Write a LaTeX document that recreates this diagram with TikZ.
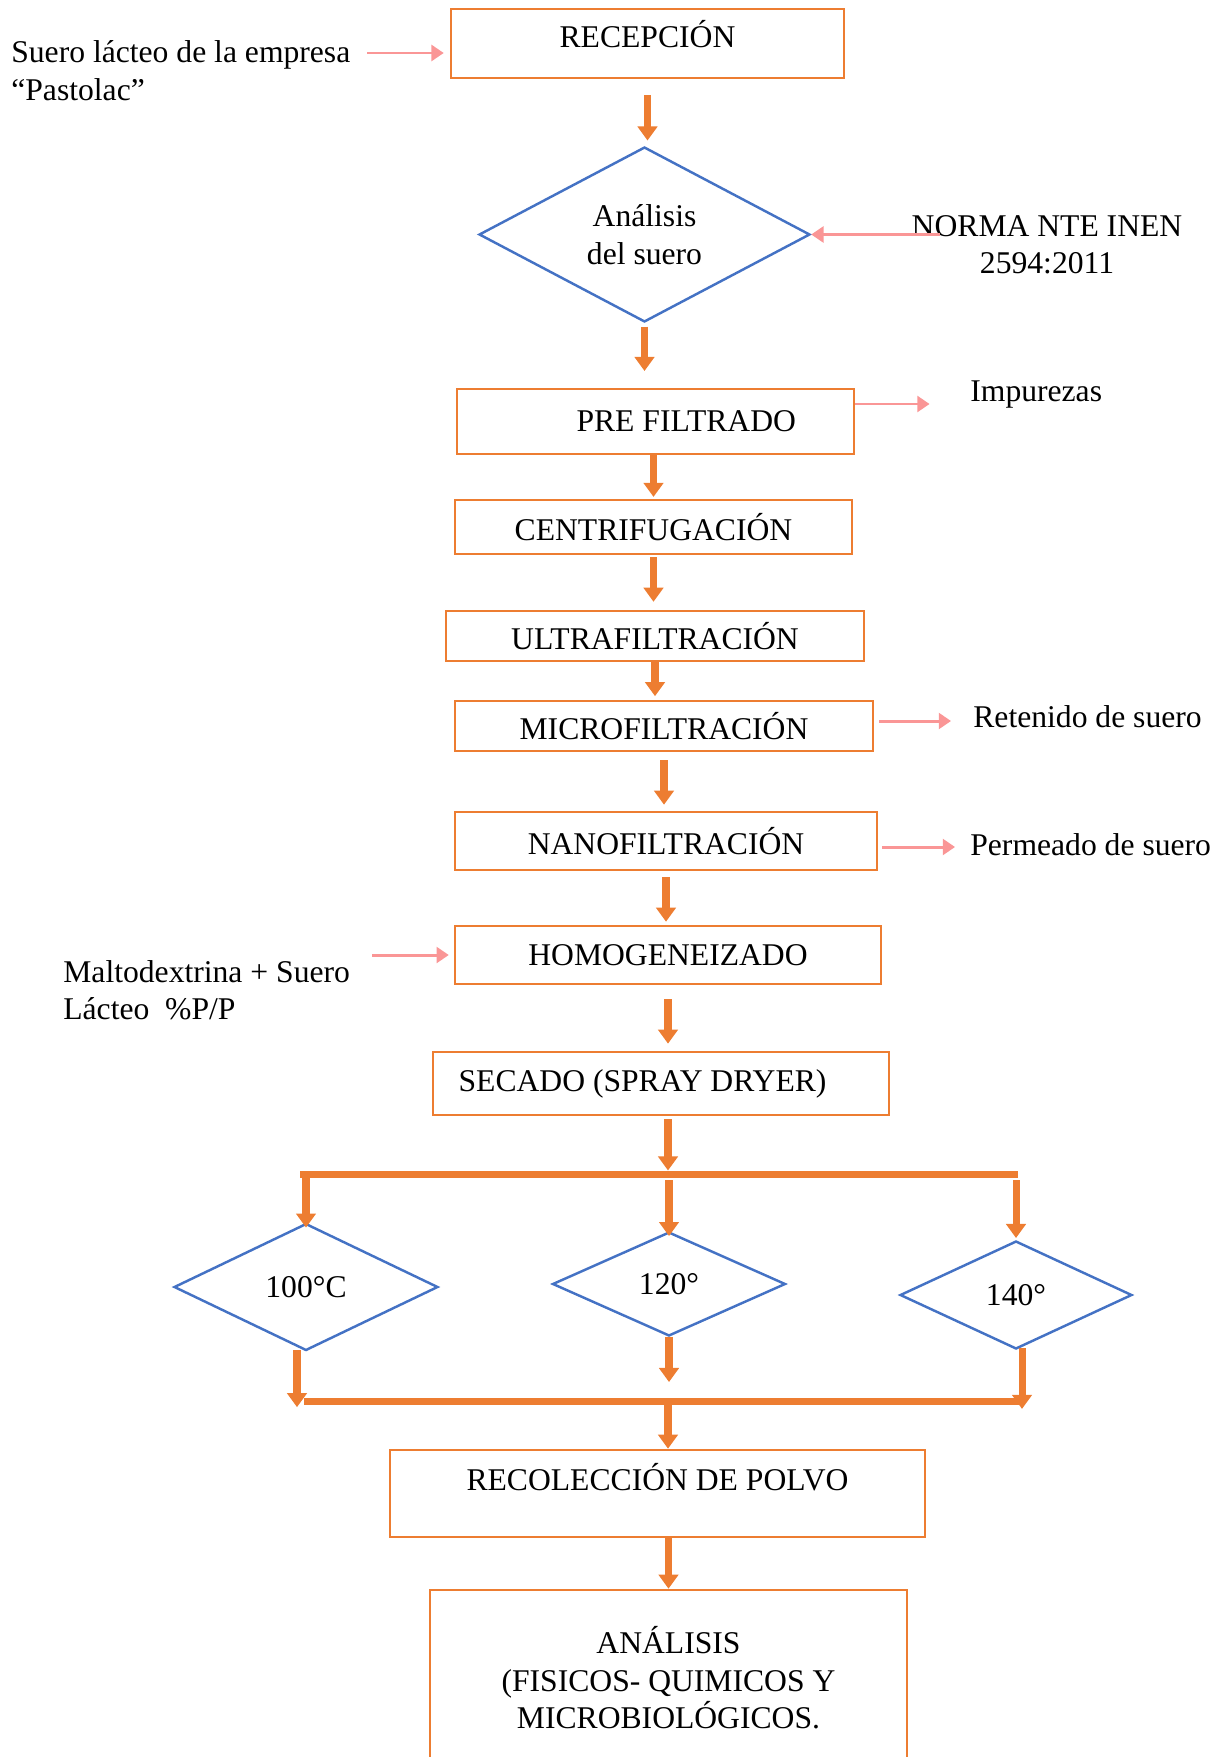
\documentclass[tikz,border=0pt]{standalone}
\usepackage{fontspec}
\setmainfont{Liberation Serif}
\usetikzlibrary{shapes.geometric,arrows.meta,calc}
\definecolor{naranja}{RGB}{237,125,49}
\definecolor{azul}{RGB}{68,114,196}
\definecolor{rosa}{RGB}{250,150,150}
\tikzset{
  proc/.style={draw=naranja,line width=1.5pt,inner sep=0pt,align=center},
  decis/.style={diamond,draw=azul,line width=1.4pt,inner sep=0pt,align=center},
  flow/.style={draw=naranja,line width=4pt,-{Triangle[length=8pt,width=11pt]}},
  aux/.style={draw=rosa,line width=1.7pt,-{Triangle[length=7pt,width=9pt]}},
  bar/.style={draw=naranja,line width=4pt},
  lbl/.style={inner sep=0pt,align=left,anchor=west}
}
\newcommand{\sidelabel}[4]{\node[lbl] (#1) at (#2,#3) {#4};}

\begin{document}
\begin{tikzpicture}[x=0.02cm,y=-0.02cm,font=\fontsize{18}{21.3}\selectfont]
        \useasboundingbox (0,0) rectangle (1223,1757);
        %nodes
        \node[proc,minimum width=7.86cm,minimum height=1.38cm,text height=13pt,text depth=8pt] (recep) at (647.5,43.5) {RECEPCIÓN};
        \node[decis,minimum width=6.62cm,minimum height=3.5cm] (ana) at (644.5,234.5) {Análisis\\del suero};
        \node[proc,minimum width=7.94cm,minimum height=1.3cm] (prefilt) at (655.5,421.5) {\hspace*{35pt}PRE FILTRADO};
        \node[proc,minimum width=7.94cm,minimum height=1.08cm] (centri) at (653.5,527) {CENTRIFUGACIÓN};
        \node[proc,minimum width=8.36cm,minimum height=1cm] (ultra) at (655,636) {ULTRAFILTRACIÓN};
        \node[proc,minimum width=8.36cm,minimum height=1cm] (micro) at (664,726) {MICROFILTRACIÓN};
        \node[proc,minimum width=8.44cm,minimum height=1.16cm] (nano) at (666,841) {NANOFILTRACIÓN};
        \node[proc,minimum width=8.52cm,minimum height=1.16cm] (homog) at (668,955) {HOMOGENEIZADO};
        \node[proc,minimum width=9.12cm,minimum height=1.26cm] (secado) at (661,1083.5) {SECADO (SPRAY DRYER)\hspace*{21pt}};
        \node[decis,minimum width=5.28cm,minimum height=2.54cm] (d100) at (306,1287) {100°C};
        \node[decis,minimum width=4.66cm,minimum height=2.08cm] (d120) at (669,1284) {120°};
        \node[decis,minimum width=4.64cm,minimum height=2.16cm] (d140) at (1016,1295) {140°};
        \node[proc,minimum width=10.7cm,minimum height=1.74cm,text height=13pt,text depth=17pt] (recol) at (657.5,1493.5) {RECOLECCIÓN DE POLVO};
        \node[proc,minimum width=9.54cm,minimum height=3.52cm] (analis) at (668.5,1678) {ANÁLISIS\\(FISICOS- QUIMICOS Y\\MICROBIOLÓGICOS.};
        %side texts
        \sidelabel{fuente}{11}{70.5}{Suero lácteo de la empresa\\“Pastolac”}
        \node[inner sep=0pt,align=center] (norma) at (1047,245) {NORMA NTE INEN\\2594:2011};
        \sidelabel{impur}{970}{395}{Impurezas}
        \sidelabel{reten}{973}{717}{Retenido de suero}
        \sidelabel{perme}{970}{845}{Permeado de suero}
        \sidelabel{malto}{63}{990}{Maltodextrina + Suero\\Lácteo\ \ \%P/P}
        %split and join
        \coordinate (splitL) at (300,1174);
        \coordinate (splitM) at (668,1174);
        \coordinate (splitR) at (1018,1174);
        \coordinate (joinL) at (304,1401);
        \coordinate (joinM) at (668,1401);
        \coordinate (joinR) at (1023,1401);
        \draw[bar] (splitL) -- (splitR);
        \draw[bar] (joinL) -- (joinR);
        %edges
        \draw[flow,shorten <=9pt,shorten >=3pt] (recep.south) -- (recep.south |- ana.north);
        \draw[flow,shorten <=2pt,shorten >=9.5pt] (ana.south) -- (ana.south |- prefilt.north);
        \draw[flow,shorten >=1pt] (prefilt.south -| centri.north) -- (centri.north);
        \draw[flow,shorten <=1pt,shorten >=4.5pt] (centri.south) -- (centri.south |- ultra.north);
        \draw[flow,shorten >=2pt] (ultra.south) -- (ultra.south |- micro.north);
        \draw[flow,shorten <=4.5pt,shorten >=3.4pt] (micro.south) -- (micro.south |- nano.north);
        \draw[flow,shorten <=3.4pt,shorten >=1.7pt] (nano.south) -- (nano.south |- homog.north);
        \draw[flow,shorten <=8pt,shorten >=4pt] (homog.south) -- (homog.south |- secado.north);
        \draw[flow,shorten <=1.7pt,shorten >=2pt] (secado.south -| splitM) -- (splitM);
        \draw[flow,shorten >=-3pt] (splitL -| d100.north) -- (d100.north);
        \draw[flow,shorten <=3.5pt,shorten >=-3pt] (splitM -| d120.north) -- (d120.north);
        \draw[flow,shorten <=3.5pt,shorten >=1pt] (splitR -| d140.north) -- (d140.north);
        \draw[flow,shorten <=-1pt,shorten >=-3.5pt] ($(d100.south)+(-9,0)$) -- ($(d100.south |- joinL)+(-9,0)$);
        \draw[flow,shorten >=10.8pt] (d120.south) -- (d120.south |- joinM);
        \draw[flow,shorten <=-1pt,shorten >=-4.5pt] ($(d140.south)+(6,0)$) -- ($(d140.south |- joinR)+(6,0)$);
        \draw[flow] (joinM) -- (joinM |- recol.north);
        \draw[flow] (recol.south -| analis.north) -- (analis.north);
        %side arrows
        \draw[aux,shorten <=9.5pt,shorten >=3.4pt] ($(fuente.east |- recep.west)+(0,9.5)$) -- ($(recep.west)+(0,9.5)$);
        \draw[aux] ($(norma.west |- ana.east)+(29,0)$) -- (ana.east);
        \draw[aux,shorten >=23pt] ($(prefilt.east)+(0,-17.5)$) -- ($(prefilt.east -| impur.west)+(0,-17.5)$);
        \draw[aux,shorten <=2.8pt,shorten >=12.5pt] ($(micro.east)+(0,-5)$) -- ($(micro.east -| reten.west)+(0,-5)$);
        \draw[aux,shorten <=2.3pt,shorten >=8.5pt] ($(nano.east)+(0,6)$) -- ($(nano.east -| perme.west)+(0,6)$);
        \draw[aux,shorten <=12.5pt,shorten >=2.8pt] (malto.east |- homog.west) -- (homog.west);
\end{tikzpicture}
\end{document}
